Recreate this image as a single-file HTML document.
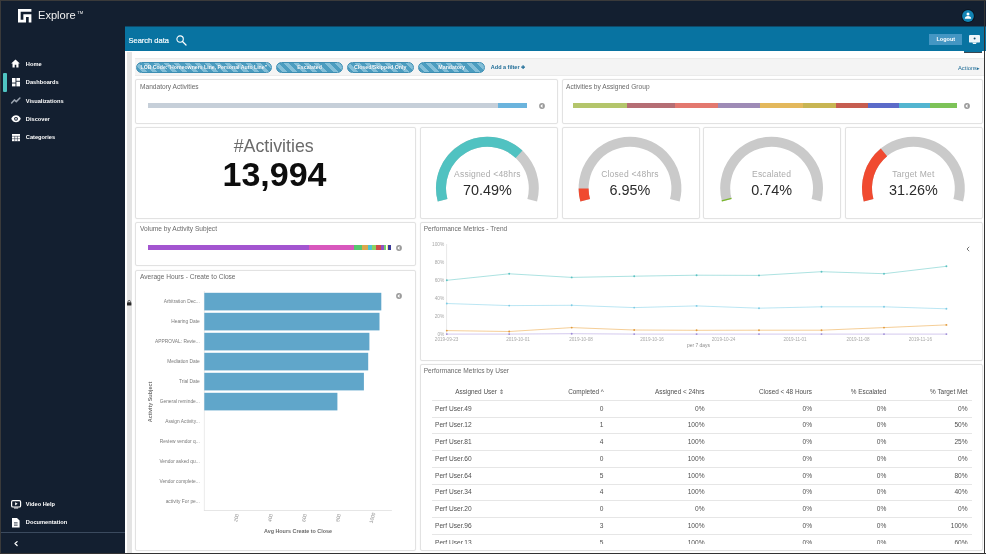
<!DOCTYPE html>
<html><head><meta charset="utf-8"><title>Explore</title>
<style>
html,body{margin:0;padding:0;background:#fff;}
body{width:986px;height:554px;overflow:hidden;position:relative;font-family:"Liberation Sans",sans-serif;}
#r{position:absolute;left:0;top:0;width:986px;height:554px;overflow:hidden;}
#r div{position:absolute;}
#r svg{position:absolute;overflow:visible;}
</style></head><body><div id="r">
<div id="c" style="left:0;top:0;width:986px;height:554px;filter:blur(0.45px)">
<div style="left:0px;top:0px;width:986px;height:554px;background:#fff"></div>
<div style="left:0px;top:0px;width:986px;height:26.4px;background:#131f30"></div>
<div style="left:0px;top:0px;width:125px;height:554px;background:#131f30"></div>
<div style="left:125px;top:26px;width:861px;height:25px;background:#0873a1"></div>
<div style="left:125px;top:26px;width:861px;height:1px;background:#0e4a6a"></div>
<div style="left:127px;top:52px;width:5px;height:502px;background:#e4e4e4"></div>
<div style="left:135px;top:58px;width:849px;height:18px;background:#f4f4f4;border-top:1px solid #ebebeb;border-bottom:1px solid #ebebeb;box-sizing:border-box"></div>
<div style="left:135px;top:79px;width:422.5px;height:44.5px;background:#fff;border:1px solid #e2e2e2;border-radius:2px;box-sizing:border-box;box-shadow:0 0 1.5px rgba(0,0,0,0.07)"></div>
<div style="left:561.5px;top:79px;width:421.0px;height:44.5px;background:#fff;border:1px solid #e2e2e2;border-radius:2px;box-sizing:border-box;box-shadow:0 0 1.5px rgba(0,0,0,0.07)"></div>
<div style="left:135px;top:126.5px;width:280.5px;height:92.0px;background:#fff;border:1px solid #e2e2e2;border-radius:2px;box-sizing:border-box;box-shadow:0 0 1.5px rgba(0,0,0,0.07)"></div>
<div style="left:419.5px;top:126.5px;width:138.0px;height:92.0px;background:#fff;border:1px solid #e2e2e2;border-radius:2px;box-sizing:border-box;box-shadow:0 0 1.5px rgba(0,0,0,0.07)"></div>
<div style="left:561.5px;top:126.5px;width:138.0px;height:92.0px;background:#fff;border:1px solid #e2e2e2;border-radius:2px;box-sizing:border-box;box-shadow:0 0 1.5px rgba(0,0,0,0.07)"></div>
<div style="left:703px;top:126.5px;width:138px;height:92.0px;background:#fff;border:1px solid #e2e2e2;border-radius:2px;box-sizing:border-box;box-shadow:0 0 1.5px rgba(0,0,0,0.07)"></div>
<div style="left:845px;top:126.5px;width:137.5px;height:92.0px;background:#fff;border:1px solid #e2e2e2;border-radius:2px;box-sizing:border-box;box-shadow:0 0 1.5px rgba(0,0,0,0.07)"></div>
<div style="left:135px;top:222px;width:280.5px;height:43.5px;background:#fff;border:1px solid #e2e2e2;border-radius:2px;box-sizing:border-box;box-shadow:0 0 1.5px rgba(0,0,0,0.07)"></div>
<div style="left:419.5px;top:222px;width:563.0px;height:138.5px;background:#fff;border:1px solid #e2e2e2;border-radius:2px;box-sizing:border-box;box-shadow:0 0 1.5px rgba(0,0,0,0.07)"></div>
<div style="left:135px;top:269.5px;width:280.5px;height:281.5px;background:#fff;border:1px solid #e2e2e2;border-radius:2px;box-sizing:border-box;box-shadow:0 0 1.5px rgba(0,0,0,0.07)"></div>
<div style="left:419.5px;top:364px;width:563.0px;height:187px;background:#fff;border:1px solid #e2e2e2;border-radius:2px;box-sizing:border-box;box-shadow:0 0 1.5px rgba(0,0,0,0.07)"></div>
<svg style="left:18.1px;top:9px" width="13.4" height="13.4" viewBox="0 0 5 5"><path d="M0 0H5V1H1V4H2V2H5V5H4V3H3V5H0Z" fill="#fff"/></svg>
<div style="top:8.43px;font-size:11.1px;line-height:15.54px;color:#f2f2f2;font-weight:normal;white-space:nowrap;left:38px;">Explore</div>
<div style="top:10.06px;font-size:4.2px;line-height:5.88px;color:#f2f2f2;font-weight:normal;white-space:nowrap;left:77.2px;">TM</div>
<div style="top:60.81px;font-size:5.7px;line-height:7.98px;color:#fff;font-weight:bold;white-space:nowrap;left:25.8px;">Home</div>
<div style="top:79.21px;font-size:5.7px;line-height:7.98px;color:#fff;font-weight:bold;white-space:nowrap;left:25.8px;">Dashboards</div>
<div style="top:97.61px;font-size:5.7px;line-height:7.98px;color:#fff;font-weight:bold;white-space:nowrap;left:25.8px;">Visualizations</div>
<div style="top:115.91px;font-size:5.7px;line-height:7.98px;color:#fff;font-weight:bold;white-space:nowrap;left:25.8px;">Discover</div>
<div style="top:134.41px;font-size:5.7px;line-height:7.98px;color:#fff;font-weight:bold;white-space:nowrap;left:25.8px;">Categories</div>
<div style="top:501.01px;font-size:5.7px;line-height:7.98px;color:#fff;font-weight:bold;white-space:nowrap;left:25.8px;">Video Help</div>
<div style="top:519.21px;font-size:5.7px;line-height:7.98px;color:#fff;font-weight:bold;white-space:nowrap;left:25.8px;">Documentation</div>
<div style="left:3px;top:72.5px;width:3.5px;height:19.5px;background:#4fc4c2;border-radius:1px"></div>
<svg style="left:11px;top:59px" width="9" height="9" viewBox="0 0 9 9"><path d="M4.5 0.6L0.2 4.6H1.5V8.4H3.7V5.7H5.3V8.4H7.5V4.6H8.8Z" fill="#fff"/></svg>
<svg style="left:11.6px;top:78.3px" width="8" height="8.4" viewBox="0 0 8 8.4"><rect x="0" y="0" width="3.5" height="4.6" fill="#fff"/><rect x="4.4" y="0" width="3.6" height="2.8" fill="#fff"/><rect x="0" y="5.5" width="3.5" height="2.9" fill="#fff"/><rect x="4.4" y="3.7" width="3.6" height="4.7" fill="#fff"/></svg>
<svg style="left:10.8px;top:97.3px" width="9.5" height="7" viewBox="0 0 9.5 7"><path d="M0.6 6L3.4 2.9L5.3 4.6L8.9 1" fill="none" stroke="#9aa3af" stroke-width="1.5" stroke-linecap="round" stroke-linejoin="round"/></svg>
<svg style="left:10.6px;top:115.4px" width="10" height="7.6" viewBox="0 0 10 7.6"><path d="M0.2 3.8C1.4 1.4 3 0.3 5 0.3S8.6 1.4 9.8 3.8C8.6 6.2 7 7.3 5 7.3S1.4 6.2 0.2 3.8Z" fill="#fff"/><circle cx="5" cy="3.8" r="1.9" fill="#131f30"/><circle cx="5" cy="3.8" r="0.9" fill="#fff"/></svg>
<svg style="left:11.6px;top:134px" width="8" height="7.2" viewBox="0 0 8 7.2"><rect x="0" y="0" width="8" height="7.2" fill="#fff"/><path d="M0 2.3H8M2.7 2.3V7.2M5.4 2.3V7.2M0 4.7H8" stroke="#131f30" stroke-width="0.5" fill="none"/></svg>
<svg style="left:10.8px;top:499.6px" width="10.2" height="8.6" viewBox="0 0 10.2 8.6"><rect x="0.6" y="0.6" width="9" height="6.4" rx="1.3" fill="none" stroke="#fff" stroke-width="1.2"/><path d="M4.1 2.2L6.7 3.8L4.1 5.4Z" fill="#fff"/><rect x="3" y="7.6" width="4.2" height="0.9" fill="#fff"/></svg>
<svg style="left:12px;top:517.6px" width="7.6" height="9.6" viewBox="0 0 7.6 9.6"><path d="M0 0H5L7.6 2.6V9.6H0Z" fill="#fff"/><path d="M2 4.6H5.6M2 6H5.6M2 7.4H5.6" stroke="#131f30" stroke-width="0.6"/></svg>
<div style="left:1px;top:532px;width:124px;height:1px;background:#3b4a5e"></div>
<svg style="left:13.8px;top:540.8px" width="4" height="5.2" viewBox="0 0 4 5.2"><path d="M3.1 0.6L1 2.6L3.1 4.6" fill="none" stroke="#fff" stroke-width="1.3" stroke-linecap="round" stroke-linejoin="round"/></svg>
<svg style="left:960.5px;top:8.9px" width="14" height="14" viewBox="0 0 14 14"><circle cx="7" cy="7" r="6.8" fill="#08121e"/><circle cx="7" cy="7" r="5.9" fill="#1183b3"/><circle cx="7" cy="5.1" r="1.5" fill="#fff"/><path d="M3.8 9.7C3.8 7.8 5.2 7 7 7S10.2 7.8 10.2 9.7Z" fill="#fff"/></svg>
<div style="top:35.55px;font-size:7.5px;line-height:10.5px;color:#f4fafc;font-weight:normal;white-space:nowrap;-webkit-text-stroke:0.2px #f4fafc;left:128.5px;">Search data</div>
<svg style="left:175.6px;top:34.8px" width="11" height="11" viewBox="0 0 11 11"><circle cx="4.1" cy="4.1" r="3.2" fill="none" stroke="#fff" stroke-width="1.1"/><path d="M6.5 6.5L10 10" stroke="#fff" stroke-width="1.3" stroke-linecap="round"/></svg>
<div style="left:929px;top:33.8px;width:33.2px;height:10.8px;background:#4496c3"></div>
<div style="top:36.15px;font-size:5.5px;line-height:7.7px;color:#fff;font-weight:bold;white-space:nowrap;left:945.8px;transform:translateX(-50%);">Logout</div>
<div style="left:963.8px;top:50px;width:18.2px;height:2px;background:#0873a1"></div>
<div style="left:963.8px;top:51.8px;width:18.2px;height:1.7px;background:#3b4650"></div>
<svg style="left:969.2px;top:35px" width="11" height="9.2" viewBox="0 0 11 9.2"><rect x="0" y="0" width="11" height="7.4" rx="0.5" fill="#eef6fa"/><circle cx="5.6" cy="3.6" r="1" fill="#14506f"/><path d="M3.2 7.4H7.8L6.9 9H4.1Z" fill="#eef6fa"/></svg>
<div style="left:136px;top:61.5px;width:135.60000000000002px;height:11.4px;box-sizing:border-box;border:1px solid #3e8fb4;border-radius:6px;background:repeating-linear-gradient(45deg,#4c9dc0 0,#4c9dc0 3.6px,#84bfd8 3.6px,#84bfd8 7.2px);overflow:hidden"></div>
<div style="top:64.26px;font-size:5.2px;line-height:7.28px;color:#fff;font-weight:bold;white-space:nowrap;text-shadow:0 0 1px #2e7da3;left:203.8px;transform:translateX(-50%);">LOB Code:"Homeowners Line, Personal Auto Line"</div>
<div style="left:276px;top:61.5px;width:67.19999999999999px;height:11.4px;box-sizing:border-box;border:1px solid #3e8fb4;border-radius:6px;background:repeating-linear-gradient(45deg,#4c9dc0 0,#4c9dc0 3.6px,#84bfd8 3.6px,#84bfd8 7.2px);overflow:hidden"></div>
<div style="top:64.23px;font-size:5.25px;line-height:7.35px;color:#fff;font-weight:bold;white-space:nowrap;text-shadow:0 0 1px #2e7da3;left:309.6px;transform:translateX(-50%);">Escalated</div>
<div style="left:346.6px;top:61.5px;width:67.09999999999997px;height:11.4px;box-sizing:border-box;border:1px solid #3e8fb4;border-radius:6px;background:repeating-linear-gradient(45deg,#4c9dc0 0,#4c9dc0 3.6px,#84bfd8 3.6px,#84bfd8 7.2px);overflow:hidden"></div>
<div style="top:64.23px;font-size:5.25px;line-height:7.35px;color:#fff;font-weight:bold;white-space:nowrap;text-shadow:0 0 1px #2e7da3;left:380.15px;transform:translateX(-50%);">Closed/Skipped Only</div>
<div style="left:417.8px;top:61.5px;width:67.69999999999999px;height:11.4px;box-sizing:border-box;border:1px solid #3e8fb4;border-radius:6px;background:repeating-linear-gradient(45deg,#4c9dc0 0,#4c9dc0 3.6px,#84bfd8 3.6px,#84bfd8 7.2px);overflow:hidden"></div>
<div style="top:64.23px;font-size:5.25px;line-height:7.35px;color:#fff;font-weight:bold;white-space:nowrap;text-shadow:0 0 1px #2e7da3;left:451.65px;transform:translateX(-50%);">Mandatory</div>
<div style="top:63.85px;font-size:5.5px;line-height:7.7px;color:#1d6b96;font-weight:bold;white-space:nowrap;left:490.8px;">Add a filter <span style="font-size:4.6px">✚</span></div>
<div style="top:63.64px;font-size:5.8px;line-height:8.12px;color:#1d6b96;font-weight:normal;white-space:nowrap;left:958px;">Actions<span style="font-size:4.6px">▸</span></div>
<svg style="left:126.6px;top:299.5px" width="4.4" height="5.6" viewBox="0 0 4.4 5.6"><rect x="0" y="2.3" width="4.4" height="3.3" rx="0.5" fill="#2a2a2a"/><path d="M1 2.4V1.6A1.2 1.2 0 0 1 3.4 1.6V2.4" fill="none" stroke="#2a2a2a" stroke-width="0.7"/></svg>
<div style="top:81.78px;font-size:6.6px;line-height:9.24px;color:#6a6a6a;font-weight:normal;white-space:nowrap;left:140px;">Mandatory Activities</div>
<div style="top:81.78px;font-size:6.6px;line-height:9.24px;color:#6a6a6a;font-weight:normal;white-space:nowrap;left:566px;">Activities by Assigned Group</div>
<div style="top:224.28px;font-size:6.6px;line-height:9.24px;color:#6a6a6a;font-weight:normal;white-space:nowrap;left:140px;">Volume by Activity Subject</div>
<div style="top:271.58px;font-size:6.6px;line-height:9.24px;color:#6a6a6a;font-weight:normal;white-space:nowrap;left:140px;">Average Hours - Create to Close</div>
<div style="top:224.28px;font-size:6.6px;line-height:9.24px;color:#6a6a6a;font-weight:normal;white-space:nowrap;left:423.7px;">Performance Metrics - Trend</div>
<div style="top:366.38px;font-size:6.6px;line-height:9.24px;color:#6a6a6a;font-weight:normal;white-space:nowrap;left:423.7px;">Performance Metrics by User</div>
<svg style="left:538.5px;top:102.7px" width="6" height="6" viewBox="0 0 6 6"><circle cx="3" cy="3" r="2.9" fill="#9a9a9a"/><path d="M3.5 1.1L1.3 3L3.5 4.9Z" fill="#fff"/></svg>
<svg style="left:964px;top:102.7px" width="6" height="6" viewBox="0 0 6 6"><circle cx="3" cy="3" r="2.9" fill="#9a9a9a"/><path d="M3.5 1.1L1.3 3L3.5 4.9Z" fill="#fff"/></svg>
<svg style="left:396px;top:245px" width="6" height="6" viewBox="0 0 6 6"><circle cx="3" cy="3" r="2.9" fill="#9a9a9a"/><path d="M3.5 1.1L1.3 3L3.5 4.9Z" fill="#fff"/></svg>
<svg style="left:396.3px;top:293px" width="6" height="6" viewBox="0 0 6 6"><circle cx="3" cy="3" r="2.9" fill="#9a9a9a"/><path d="M3.5 1.1L1.3 3L3.5 4.9Z" fill="#fff"/></svg>
<svg style="left:965.5px;top:245.5px" width="4" height="6" viewBox="0 0 4 6"><path d="M3.2 0.8L1 3L3.2 5.2" fill="none" stroke="#666" stroke-width="0.9"/></svg>
<div style="left:147.7px;top:103px;width:350.6px;height:5px;background:#c6cfd9"></div>
<div style="left:498.3px;top:103px;width:29.2px;height:5px;background:#6bb4dd"></div>
<div style="left:573.4px;top:103px;width:53.7px;height:5px;background:#b4c56b"></div>
<div style="left:627.1px;top:103px;width:48.1px;height:5px;background:#b56e74"></div>
<div style="left:675.2px;top:103px;width:42.8px;height:5px;background:#e3786f"></div>
<div style="left:718px;top:103px;width:42px;height:5px;background:#9e8bb6"></div>
<div style="left:760px;top:103px;width:42.8px;height:5px;background:#e3b85c"></div>
<div style="left:802.8px;top:103px;width:33.2px;height:5px;background:#c8b553"></div>
<div style="left:836px;top:103px;width:32px;height:5px;background:#c65d50"></div>
<div style="left:868px;top:103px;width:31px;height:5px;background:#5b6bc9"></div>
<div style="left:899px;top:103px;width:31.4px;height:5px;background:#53b5d0"></div>
<div style="left:930.4px;top:103px;width:27.1px;height:5px;background:#7dc358"></div>
<div style="left:147.7px;top:245.1px;width:161.7px;height:5.3px;background:#a355d0"></div>
<div style="left:309.4px;top:245.1px;width:44.4px;height:5.3px;background:#d857bd"></div>
<div style="left:353.8px;top:245.1px;width:7.9px;height:5.3px;background:#57c86f"></div>
<div style="left:361.7px;top:245.1px;width:6.3px;height:5.3px;background:#dba84c"></div>
<div style="left:368px;top:245.1px;width:4px;height:5.3px;background:#4cc4d0"></div>
<div style="left:372px;top:245.1px;width:4.2px;height:5.3px;background:#8fd060"></div>
<div style="left:376.2px;top:245.1px;width:4.4px;height:5.3px;background:#d04a4a"></div>
<div style="left:380.6px;top:245.1px;width:3.3px;height:5.3px;background:#9052c2"></div>
<div style="left:383.9px;top:245.1px;width:2.6px;height:5.3px;background:#70d070"></div>
<div style="left:386.5px;top:245.1px;width:1.8px;height:5.3px;background:#ecec9a"></div>
<div style="left:388.3px;top:245.1px;width:2.5px;height:5.3px;background:#3a3a98"></div>
<div style="top:133.94px;font-size:17.8px;line-height:24.92px;color:#6b6b6b;font-weight:normal;white-space:nowrap;left:273.7px;transform:translateX(-50%);">#Activities</div>
<div style="top:150.8px;font-size:34px;line-height:47.6px;color:#0d0d0d;font-weight:bold;white-space:nowrap;left:274.5px;transform:translateX(-50%);">13,994</div>
<svg style="left:0;top:0" width="986" height="554" viewBox="0 0 986 554"><path d="M442.58 200.21A46.4 46.4 0 1 1 532.22 200.21" fill="none" stroke="#cacaca" stroke-width="10"/><path d="M442.58 200.21A46.4 46.4 0 0 1 519.06 154.28" fill="none" stroke="#50c2c1" stroke-width="10"/></svg>
<div style="top:169.25px;font-size:8.5px;line-height:11.9px;color:#ababab;font-weight:normal;white-space:nowrap;letter-spacing:0.2px;left:487.4px;transform:translateX(-50%);">Assigned &lt;48hrs</div>
<div style="top:179.92px;font-size:14.4px;line-height:20.16px;color:#2b2b2b;font-weight:normal;white-space:nowrap;left:487.4px;transform:translateX(-50%);">70.49%</div>
<svg style="left:0;top:0" width="986" height="554" viewBox="0 0 986 554"><path d="M585.18 200.21A46.4 46.4 0 1 1 674.82 200.21" fill="none" stroke="#cacaca" stroke-width="10"/><path d="M585.18 200.21A46.4 46.4 0 0 1 583.60 188.53" fill="none" stroke="#f04a30" stroke-width="10"/></svg>
<div style="top:169.25px;font-size:8.5px;line-height:11.9px;color:#ababab;font-weight:normal;white-space:nowrap;letter-spacing:0.2px;left:630px;transform:translateX(-50%);">Closed &lt;48hrs</div>
<div style="top:179.92px;font-size:14.4px;line-height:20.16px;color:#2b2b2b;font-weight:normal;white-space:nowrap;left:630px;transform:translateX(-50%);">6.95%</div>
<svg style="left:0;top:0" width="986" height="554" viewBox="0 0 986 554"><path d="M726.78 200.21A46.4 46.4 0 1 1 816.42 200.21" fill="none" stroke="#cacaca" stroke-width="10"/><path d="M726.78 200.21A46.4 46.4 0 0 1 726.47 198.99" fill="none" stroke="#79b82a" stroke-width="10"/></svg>
<div style="top:169.25px;font-size:8.5px;line-height:11.9px;color:#ababab;font-weight:normal;white-space:nowrap;letter-spacing:0.2px;left:771.6px;transform:translateX(-50%);">Escalated</div>
<div style="top:179.92px;font-size:14.4px;line-height:20.16px;color:#2b2b2b;font-weight:normal;white-space:nowrap;left:771.6px;transform:translateX(-50%);">0.74%</div>
<svg style="left:0;top:0" width="986" height="554" viewBox="0 0 986 554"><path d="M868.58 200.21A46.4 46.4 0 1 1 958.22 200.21" fill="none" stroke="#cacaca" stroke-width="10"/><path d="M868.58 200.21A46.4 46.4 0 0 1 883.98 152.32" fill="none" stroke="#f04a30" stroke-width="10"/></svg>
<div style="top:169.25px;font-size:8.5px;line-height:11.9px;color:#ababab;font-weight:normal;white-space:nowrap;letter-spacing:0.2px;left:913.4px;transform:translateX(-50%);">Target Met</div>
<div style="top:179.92px;font-size:14.4px;line-height:20.16px;color:#2b2b2b;font-weight:normal;white-space:nowrap;left:913.4px;transform:translateX(-50%);">31.26%</div>
<div style="top:299.31px;font-size:4.85px;line-height:6.79px;color:#7a7a7a;font-weight:normal;white-space:nowrap;right:786.2px;">Arbitration Dec...</div>
<div style="top:319.31px;font-size:4.85px;line-height:6.79px;color:#7a7a7a;font-weight:normal;white-space:nowrap;right:786.2px;">Hearing Date</div>
<div style="top:339.31px;font-size:4.85px;line-height:6.79px;color:#7a7a7a;font-weight:normal;white-space:nowrap;right:786.2px;">APPROVAL: Revie...</div>
<div style="top:359.31px;font-size:4.85px;line-height:6.79px;color:#7a7a7a;font-weight:normal;white-space:nowrap;right:786.2px;">Mediation Date</div>
<div style="top:379.31px;font-size:4.85px;line-height:6.79px;color:#7a7a7a;font-weight:normal;white-space:nowrap;right:786.2px;">Trial Date</div>
<div style="top:399.31px;font-size:4.85px;line-height:6.79px;color:#7a7a7a;font-weight:normal;white-space:nowrap;right:786.2px;">General reminde...</div>
<div style="top:419.31px;font-size:4.85px;line-height:6.79px;color:#7a7a7a;font-weight:normal;white-space:nowrap;right:786.2px;">Assign Activity...</div>
<div style="top:439.31px;font-size:4.85px;line-height:6.79px;color:#7a7a7a;font-weight:normal;white-space:nowrap;right:786.2px;">Review vendor q...</div>
<div style="top:459.31px;font-size:4.85px;line-height:6.79px;color:#7a7a7a;font-weight:normal;white-space:nowrap;right:786.2px;">Vendor asked qu...</div>
<div style="top:479.31px;font-size:4.85px;line-height:6.79px;color:#7a7a7a;font-weight:normal;white-space:nowrap;right:786.2px;">Vendor complete...</div>
<div style="top:499.31px;font-size:4.85px;line-height:6.79px;color:#7a7a7a;font-weight:normal;white-space:nowrap;right:786.2px;">activity For pe...</div>
<svg style="left:0;top:0" width="986" height="554" viewBox="0 0 986 554"><rect x="203.9" y="291" width="0.7" height="219.8" fill="#e3e3e3"/><rect x="203.9" y="510.3" width="188" height="0.7" fill="#dcdcdc"/><rect x="204.3" y="292.8" width="177.0" height="17.6" fill="#60a6ca"/><rect x="204.3" y="312.8" width="175.2" height="17.6" fill="#60a6ca"/><rect x="204.3" y="332.8" width="165.1" height="17.6" fill="#60a6ca"/><rect x="204.3" y="352.8" width="163.9" height="17.6" fill="#60a6ca"/><rect x="204.3" y="372.8" width="159.6" height="17.6" fill="#60a6ca"/><rect x="204.3" y="392.8" width="133.1" height="17.6" fill="#60a6ca"/></svg>
<div style="left:236.6px;top:518.2px;font-size:4.8px;line-height:6px;color:#8a8a8a;white-space:nowrap;transform:translate(-50%,-50%) rotate(-75deg)">200</div>
<div style="left:271.4px;top:518.2px;font-size:4.8px;line-height:6px;color:#8a8a8a;white-space:nowrap;transform:translate(-50%,-50%) rotate(-75deg)">400</div>
<div style="left:305.2px;top:518.2px;font-size:4.8px;line-height:6px;color:#8a8a8a;white-space:nowrap;transform:translate(-50%,-50%) rotate(-75deg)">600</div>
<div style="left:339.4px;top:518.2px;font-size:4.8px;line-height:6px;color:#8a8a8a;white-space:nowrap;transform:translate(-50%,-50%) rotate(-75deg)">800</div>
<div style="left:372.8px;top:518.2px;font-size:4.8px;line-height:6px;color:#8a8a8a;white-space:nowrap;transform:translate(-50%,-50%) rotate(-75deg)">1000</div>
<div style="left:150.3px;top:401.6px;font-size:5.4px;line-height:7px;color:#757575;font-weight:bold;white-space:nowrap;transform:translate(-50%,-50%) rotate(-90deg)">Activity Subject</div>
<div style="top:528.12px;font-size:5.4px;line-height:7.56px;color:#6a6a6a;font-weight:bold;white-space:nowrap;left:298px;transform:translateX(-50%);">Avg Hours Create to Close</div>
<div style="top:242.24px;font-size:4.8px;line-height:6.72px;color:#a8a8a8;font-weight:normal;white-space:nowrap;right:541.7px;">100%</div>
<div style="top:260.14px;font-size:4.8px;line-height:6.72px;color:#a8a8a8;font-weight:normal;white-space:nowrap;right:541.7px;">80%</div>
<div style="top:278.34px;font-size:4.8px;line-height:6.72px;color:#a8a8a8;font-weight:normal;white-space:nowrap;right:541.7px;">60%</div>
<div style="top:296.44px;font-size:4.8px;line-height:6.72px;color:#a8a8a8;font-weight:normal;white-space:nowrap;right:541.7px;">40%</div>
<div style="top:314.44px;font-size:4.8px;line-height:6.72px;color:#a8a8a8;font-weight:normal;white-space:nowrap;right:541.7px;">20%</div>
<div style="top:331.94px;font-size:4.8px;line-height:6.72px;color:#a8a8a8;font-weight:normal;white-space:nowrap;right:541.7px;">0%</div>
<svg style="left:0;top:0" width="986" height="554" viewBox="0 0 986 554"><path d="M446.6 244V334.3" stroke="#dedede" stroke-width="0.7" fill="none"/><polyline points="446.8,334.1 509.2,334.1 571.7,333.7 634.2,334.1 696.6,334.1 759.0,334.1 821.5,334.1 884.0,334.1 946.4,334.1" fill="none" stroke="#c9bdea" stroke-width="0.8" stroke-linejoin="round"/><circle cx="446.8" cy="334.1" r="0.95" fill="#9d8bd6"/><circle cx="509.2" cy="334.1" r="0.95" fill="#9d8bd6"/><circle cx="571.7" cy="333.7" r="0.95" fill="#9d8bd6"/><circle cx="634.2" cy="334.1" r="0.95" fill="#9d8bd6"/><circle cx="696.6" cy="334.1" r="0.95" fill="#9d8bd6"/><circle cx="759.0" cy="334.1" r="0.95" fill="#9d8bd6"/><circle cx="821.5" cy="334.1" r="0.95" fill="#9d8bd6"/><circle cx="884.0" cy="334.1" r="0.95" fill="#9d8bd6"/><circle cx="946.4" cy="334.1" r="0.95" fill="#9d8bd6"/><polyline points="446.8,330.6 509.2,331.5 571.7,327.6 634.2,330.0 696.6,330.3 759.0,330.2 821.5,330.2 884.0,327.6 946.4,324.9" fill="none" stroke="#f3c27c" stroke-width="0.8" stroke-linejoin="round"/><circle cx="446.8" cy="330.6" r="0.95" fill="#e19a3c"/><circle cx="509.2" cy="331.5" r="0.95" fill="#e19a3c"/><circle cx="571.7" cy="327.6" r="0.95" fill="#e19a3c"/><circle cx="634.2" cy="330.0" r="0.95" fill="#e19a3c"/><circle cx="696.6" cy="330.3" r="0.95" fill="#e19a3c"/><circle cx="759.0" cy="330.2" r="0.95" fill="#e19a3c"/><circle cx="821.5" cy="330.2" r="0.95" fill="#e19a3c"/><circle cx="884.0" cy="327.6" r="0.95" fill="#e19a3c"/><circle cx="946.4" cy="324.9" r="0.95" fill="#e19a3c"/><polyline points="446.8,303.5 509.2,305.6 571.7,305.3 634.2,307.6 696.6,305.9 759.0,308.2 821.5,306.8 884.0,306.8 946.4,308.8" fill="none" stroke="#a9dff0" stroke-width="0.8" stroke-linejoin="round"/><circle cx="446.8" cy="303.5" r="0.95" fill="#7ccbe4"/><circle cx="509.2" cy="305.6" r="0.95" fill="#7ccbe4"/><circle cx="571.7" cy="305.3" r="0.95" fill="#7ccbe4"/><circle cx="634.2" cy="307.6" r="0.95" fill="#7ccbe4"/><circle cx="696.6" cy="305.9" r="0.95" fill="#7ccbe4"/><circle cx="759.0" cy="308.2" r="0.95" fill="#7ccbe4"/><circle cx="821.5" cy="306.8" r="0.95" fill="#7ccbe4"/><circle cx="884.0" cy="306.8" r="0.95" fill="#7ccbe4"/><circle cx="946.4" cy="308.8" r="0.95" fill="#7ccbe4"/><polyline points="446.8,280.3 509.2,273.8 571.7,277.4 634.2,276.2 696.6,275.2 759.0,275.4 821.5,271.7 884.0,273.7 946.4,266.3" fill="none" stroke="#97dad9" stroke-width="0.8" stroke-linejoin="round"/><circle cx="446.8" cy="280.3" r="0.95" fill="#5cc2c2"/><circle cx="509.2" cy="273.8" r="0.95" fill="#5cc2c2"/><circle cx="571.7" cy="277.4" r="0.95" fill="#5cc2c2"/><circle cx="634.2" cy="276.2" r="0.95" fill="#5cc2c2"/><circle cx="696.6" cy="275.2" r="0.95" fill="#5cc2c2"/><circle cx="759.0" cy="275.4" r="0.95" fill="#5cc2c2"/><circle cx="821.5" cy="271.7" r="0.95" fill="#5cc2c2"/><circle cx="884.0" cy="273.7" r="0.95" fill="#5cc2c2"/><circle cx="946.4" cy="266.3" r="0.95" fill="#5cc2c2"/></svg>
<div style="top:337.18px;font-size:4.6px;line-height:6.44px;color:#a8a8a8;font-weight:normal;white-space:nowrap;left:446.6px;transform:translateX(-50%);">2019-09-23</div>
<div style="top:337.18px;font-size:4.6px;line-height:6.44px;color:#a8a8a8;font-weight:normal;white-space:nowrap;left:518px;transform:translateX(-50%);">2019-10-01</div>
<div style="top:337.18px;font-size:4.6px;line-height:6.44px;color:#a8a8a8;font-weight:normal;white-space:nowrap;left:581px;transform:translateX(-50%);">2019-10-08</div>
<div style="top:337.18px;font-size:4.6px;line-height:6.44px;color:#a8a8a8;font-weight:normal;white-space:nowrap;left:652px;transform:translateX(-50%);">2019-10-16</div>
<div style="top:337.18px;font-size:4.6px;line-height:6.44px;color:#a8a8a8;font-weight:normal;white-space:nowrap;left:723.5px;transform:translateX(-50%);">2019-10-24</div>
<div style="top:337.18px;font-size:4.6px;line-height:6.44px;color:#a8a8a8;font-weight:normal;white-space:nowrap;left:795px;transform:translateX(-50%);">2019-11-01</div>
<div style="top:337.18px;font-size:4.6px;line-height:6.44px;color:#a8a8a8;font-weight:normal;white-space:nowrap;left:858px;transform:translateX(-50%);">2019-11-08</div>
<div style="top:337.18px;font-size:4.6px;line-height:6.44px;color:#a8a8a8;font-weight:normal;white-space:nowrap;left:920.4px;transform:translateX(-50%);">2019-11-16</div>
<div style="top:342.97px;font-size:4.9px;line-height:6.86px;color:#8a8a8a;font-weight:normal;white-space:nowrap;left:698.5px;transform:translateX(-50%);">per 7 days</div>
<div style="left:420px;top:380px;width:562px;height:163.6px;overflow:hidden">
<div style="top:7.52px;font-size:6.4px;line-height:8.96px;color:#4f4f4f;font-weight:normal;white-space:nowrap;left:59.5px;transform:translateX(-50%);">Assigned User ⇕</div>
<div style="top:7.52px;font-size:6.4px;line-height:8.96px;color:#4f4f4f;font-weight:normal;white-space:nowrap;right:378.2px;">Completed ^</div>
<div style="top:7.52px;font-size:6.4px;line-height:8.96px;color:#4f4f4f;font-weight:normal;white-space:nowrap;right:277.5px;">Assigned &lt; 24hrs</div>
<div style="top:7.52px;font-size:6.4px;line-height:8.96px;color:#4f4f4f;font-weight:normal;white-space:nowrap;right:170px;">Closed &lt; 48 Hours</div>
<div style="top:7.52px;font-size:6.4px;line-height:8.96px;color:#4f4f4f;font-weight:normal;white-space:nowrap;right:95.7px;">% Escalated</div>
<div style="top:7.52px;font-size:6.4px;line-height:8.96px;color:#4f4f4f;font-weight:normal;white-space:nowrap;right:14.4px;">% Target Met</div>
<div style="left:12px;top:19.8px;width:539.5px;height:0.8px;background:#e6e6e6"></div>
<div style="top:23.58px;font-size:6.6px;line-height:9.24px;color:#505050;font-weight:normal;white-space:nowrap;left:15px;">Perf User.49</div>
<div style="top:23.58px;font-size:6.6px;line-height:9.24px;color:#505050;font-weight:normal;white-space:nowrap;right:378.7px;">0</div>
<div style="top:23.58px;font-size:6.6px;line-height:9.24px;color:#505050;font-weight:normal;white-space:nowrap;right:277.5px;">0%</div>
<div style="top:23.58px;font-size:6.6px;line-height:9.24px;color:#505050;font-weight:normal;white-space:nowrap;right:170px;">0%</div>
<div style="top:23.58px;font-size:6.6px;line-height:9.24px;color:#505050;font-weight:normal;white-space:nowrap;right:95.7px;">0%</div>
<div style="top:23.58px;font-size:6.6px;line-height:9.24px;color:#505050;font-weight:normal;white-space:nowrap;right:14.4px;">0%</div>
<div style="left:12px;top:36.56px;width:539.5px;height:0.8px;background:#e6e6e6"></div>
<div style="top:40.34px;font-size:6.6px;line-height:9.24px;color:#505050;font-weight:normal;white-space:nowrap;left:15px;">Perf User.12</div>
<div style="top:40.34px;font-size:6.6px;line-height:9.24px;color:#505050;font-weight:normal;white-space:nowrap;right:378.7px;">1</div>
<div style="top:40.34px;font-size:6.6px;line-height:9.24px;color:#505050;font-weight:normal;white-space:nowrap;right:277.5px;">100%</div>
<div style="top:40.34px;font-size:6.6px;line-height:9.24px;color:#505050;font-weight:normal;white-space:nowrap;right:170px;">0%</div>
<div style="top:40.34px;font-size:6.6px;line-height:9.24px;color:#505050;font-weight:normal;white-space:nowrap;right:95.7px;">0%</div>
<div style="top:40.34px;font-size:6.6px;line-height:9.24px;color:#505050;font-weight:normal;white-space:nowrap;right:14.4px;">50%</div>
<div style="left:12px;top:53.32px;width:539.5px;height:0.8px;background:#e6e6e6"></div>
<div style="top:57.1px;font-size:6.6px;line-height:9.24px;color:#505050;font-weight:normal;white-space:nowrap;left:15px;">Perf User.81</div>
<div style="top:57.1px;font-size:6.6px;line-height:9.24px;color:#505050;font-weight:normal;white-space:nowrap;right:378.7px;">4</div>
<div style="top:57.1px;font-size:6.6px;line-height:9.24px;color:#505050;font-weight:normal;white-space:nowrap;right:277.5px;">100%</div>
<div style="top:57.1px;font-size:6.6px;line-height:9.24px;color:#505050;font-weight:normal;white-space:nowrap;right:170px;">0%</div>
<div style="top:57.1px;font-size:6.6px;line-height:9.24px;color:#505050;font-weight:normal;white-space:nowrap;right:95.7px;">0%</div>
<div style="top:57.1px;font-size:6.6px;line-height:9.24px;color:#505050;font-weight:normal;white-space:nowrap;right:14.4px;">25%</div>
<div style="left:12px;top:70.08px;width:539.5px;height:0.8px;background:#e6e6e6"></div>
<div style="top:73.86px;font-size:6.6px;line-height:9.24px;color:#505050;font-weight:normal;white-space:nowrap;left:15px;">Perf User.60</div>
<div style="top:73.86px;font-size:6.6px;line-height:9.24px;color:#505050;font-weight:normal;white-space:nowrap;right:378.7px;">0</div>
<div style="top:73.86px;font-size:6.6px;line-height:9.24px;color:#505050;font-weight:normal;white-space:nowrap;right:277.5px;">100%</div>
<div style="top:73.86px;font-size:6.6px;line-height:9.24px;color:#505050;font-weight:normal;white-space:nowrap;right:170px;">0%</div>
<div style="top:73.86px;font-size:6.6px;line-height:9.24px;color:#505050;font-weight:normal;white-space:nowrap;right:95.7px;">0%</div>
<div style="top:73.86px;font-size:6.6px;line-height:9.24px;color:#505050;font-weight:normal;white-space:nowrap;right:14.4px;">0%</div>
<div style="left:12px;top:86.84px;width:539.5px;height:0.8px;background:#e6e6e6"></div>
<div style="top:90.62px;font-size:6.6px;line-height:9.24px;color:#505050;font-weight:normal;white-space:nowrap;left:15px;">Perf User.64</div>
<div style="top:90.62px;font-size:6.6px;line-height:9.24px;color:#505050;font-weight:normal;white-space:nowrap;right:378.7px;">5</div>
<div style="top:90.62px;font-size:6.6px;line-height:9.24px;color:#505050;font-weight:normal;white-space:nowrap;right:277.5px;">100%</div>
<div style="top:90.62px;font-size:6.6px;line-height:9.24px;color:#505050;font-weight:normal;white-space:nowrap;right:170px;">0%</div>
<div style="top:90.62px;font-size:6.6px;line-height:9.24px;color:#505050;font-weight:normal;white-space:nowrap;right:95.7px;">0%</div>
<div style="top:90.62px;font-size:6.6px;line-height:9.24px;color:#505050;font-weight:normal;white-space:nowrap;right:14.4px;">80%</div>
<div style="left:12px;top:103.6px;width:539.5px;height:0.8px;background:#e6e6e6"></div>
<div style="top:107.38px;font-size:6.6px;line-height:9.24px;color:#505050;font-weight:normal;white-space:nowrap;left:15px;">Perf User.34</div>
<div style="top:107.38px;font-size:6.6px;line-height:9.24px;color:#505050;font-weight:normal;white-space:nowrap;right:378.7px;">4</div>
<div style="top:107.38px;font-size:6.6px;line-height:9.24px;color:#505050;font-weight:normal;white-space:nowrap;right:277.5px;">100%</div>
<div style="top:107.38px;font-size:6.6px;line-height:9.24px;color:#505050;font-weight:normal;white-space:nowrap;right:170px;">0%</div>
<div style="top:107.38px;font-size:6.6px;line-height:9.24px;color:#505050;font-weight:normal;white-space:nowrap;right:95.7px;">0%</div>
<div style="top:107.38px;font-size:6.6px;line-height:9.24px;color:#505050;font-weight:normal;white-space:nowrap;right:14.4px;">40%</div>
<div style="left:12px;top:120.36px;width:539.5px;height:0.8px;background:#e6e6e6"></div>
<div style="top:124.14px;font-size:6.6px;line-height:9.24px;color:#505050;font-weight:normal;white-space:nowrap;left:15px;">Perf User.20</div>
<div style="top:124.14px;font-size:6.6px;line-height:9.24px;color:#505050;font-weight:normal;white-space:nowrap;right:378.7px;">0</div>
<div style="top:124.14px;font-size:6.6px;line-height:9.24px;color:#505050;font-weight:normal;white-space:nowrap;right:277.5px;">0%</div>
<div style="top:124.14px;font-size:6.6px;line-height:9.24px;color:#505050;font-weight:normal;white-space:nowrap;right:170px;">0%</div>
<div style="top:124.14px;font-size:6.6px;line-height:9.24px;color:#505050;font-weight:normal;white-space:nowrap;right:95.7px;">0%</div>
<div style="top:124.14px;font-size:6.6px;line-height:9.24px;color:#505050;font-weight:normal;white-space:nowrap;right:14.4px;">0%</div>
<div style="left:12px;top:137.12px;width:539.5px;height:0.8px;background:#e6e6e6"></div>
<div style="top:140.9px;font-size:6.6px;line-height:9.24px;color:#505050;font-weight:normal;white-space:nowrap;left:15px;">Perf User.96</div>
<div style="top:140.9px;font-size:6.6px;line-height:9.24px;color:#505050;font-weight:normal;white-space:nowrap;right:378.7px;">3</div>
<div style="top:140.9px;font-size:6.6px;line-height:9.24px;color:#505050;font-weight:normal;white-space:nowrap;right:277.5px;">100%</div>
<div style="top:140.9px;font-size:6.6px;line-height:9.24px;color:#505050;font-weight:normal;white-space:nowrap;right:170px;">0%</div>
<div style="top:140.9px;font-size:6.6px;line-height:9.24px;color:#505050;font-weight:normal;white-space:nowrap;right:95.7px;">0%</div>
<div style="top:140.9px;font-size:6.6px;line-height:9.24px;color:#505050;font-weight:normal;white-space:nowrap;right:14.4px;">100%</div>
<div style="left:12px;top:153.88px;width:539.5px;height:0.8px;background:#e6e6e6"></div>
<div style="top:157.66px;font-size:6.6px;line-height:9.24px;color:#505050;font-weight:normal;white-space:nowrap;left:15px;">Perf User.13</div>
<div style="top:157.66px;font-size:6.6px;line-height:9.24px;color:#505050;font-weight:normal;white-space:nowrap;right:378.7px;">5</div>
<div style="top:157.66px;font-size:6.6px;line-height:9.24px;color:#505050;font-weight:normal;white-space:nowrap;right:277.5px;">100%</div>
<div style="top:157.66px;font-size:6.6px;line-height:9.24px;color:#505050;font-weight:normal;white-space:nowrap;right:170px;">0%</div>
<div style="top:157.66px;font-size:6.6px;line-height:9.24px;color:#505050;font-weight:normal;white-space:nowrap;right:95.7px;">0%</div>
<div style="top:157.66px;font-size:6.6px;line-height:9.24px;color:#505050;font-weight:normal;white-space:nowrap;right:14.4px;">60%</div>
<div style="left:12px;top:170.64px;width:539.5px;height:0.8px;background:#e6e6e6"></div>
<div style="top:174.42px;font-size:6.6px;line-height:9.24px;color:#505050;font-weight:normal;white-space:nowrap;left:15px;">Perf User.07</div>
<div style="top:174.42px;font-size:6.6px;line-height:9.24px;color:#505050;font-weight:normal;white-space:nowrap;right:378.7px;">6</div>
<div style="top:174.42px;font-size:6.6px;line-height:9.24px;color:#505050;font-weight:normal;white-space:nowrap;right:277.5px;">100%</div>
<div style="top:174.42px;font-size:6.6px;line-height:9.24px;color:#505050;font-weight:normal;white-space:nowrap;right:170px;">0%</div>
<div style="top:174.42px;font-size:6.6px;line-height:9.24px;color:#505050;font-weight:normal;white-space:nowrap;right:95.7px;">0%</div>
<div style="top:174.42px;font-size:6.6px;line-height:9.24px;color:#505050;font-weight:normal;white-space:nowrap;right:14.4px;">50%</div>
</div>
</div>
<div style="left:0px;top:0px;width:986px;height:1px;background:#3a3a3a"></div>
<div style="left:0px;top:0px;width:1.3px;height:554px;background:#3a3a3a"></div>
<div style="left:0px;top:552.5px;width:986px;height:1.5px;background:#333"></div>
<div style="left:984px;top:0px;width:1.2px;height:554px;background:#333"></div>
<div style="left:985.2px;top:51px;width:1px;height:501.5px;background:#fff"></div>
</div></body></html>
